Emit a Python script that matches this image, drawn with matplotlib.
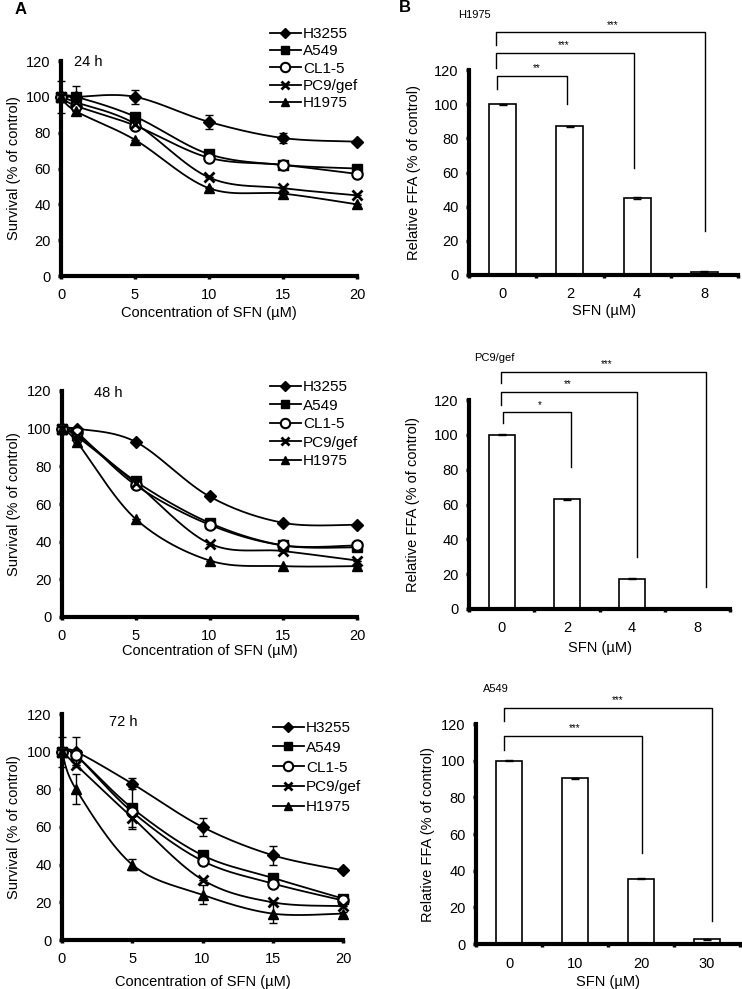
import numpy as np
import matplotlib
matplotlib.use("Agg")
import matplotlib.pyplot as plt
from matplotlib.lines import Line2D

plt.rcParams['font.family'] = ['Liberation Sans', 'DejaVu Sans']

# ---------------- data ----------------
conc = [0, 1, 5, 10, 15, 20]
cell_lines = ["H3255", "A549", "CL1-5", "PC9/gef", "H1975"]

surv_24 = {
    "H3255":   [100, 100, 100, 86, 77, 75],
    "A549":    [100, 100, 89, 68, 62, 60],
    "CL1-5":   [100, 95, 84, 66, 62, 57],
    "PC9/gef": [100, 97, 85, 55, 49, 45],
    "H1975":   [100, 92, 76, 49, 46, 40],
}
err_24 = {
    "H3255":   [9, 0, 4, 4, 3, 1],
    "A549":    [0, 6, 2, 2, 1, 1],
    "CL1-5":   [0, 0, 0, 0, 0, 0],
    "PC9/gef": [0, 0, 0, 0, 0, 0],
    "H1975":   [0, 0, 0, 0, 0, 0],
}
surv_48 = {
    "H3255":   [100, 100, 93, 64, 50, 49],
    "A549":    [100, 97, 72, 50, 38, 37],
    "CL1-5":   [100, 98, 70, 49, 38, 38],
    "PC9/gef": [100, 96, 71, 39, 35, 30],
    "H1975":   [100, 93, 52, 30, 27, 27],
}
err_48 = {k: [0, 0, 0, 0, 0, 0] for k in cell_lines}
surv_72 = {
    "H3255":   [100, 100, 83, 60, 45, 37],
    "A549":    [100, 98, 70, 45, 33, 22],
    "CL1-5":   [100, 98, 68, 42, 30, 21],
    "PC9/gef": [100, 93, 65, 32, 20, 18],
    "H1975":   [100, 80, 40, 24, 14, 14],
}
err_72 = {
    "H3255":   [8, 8, 3, 5, 5, 1],
    "A549":    [0, 0, 11, 0, 0, 0],
    "CL1-5":   [0, 0, 0, 0, 0, 0],
    "PC9/gef": [0, 0, 5, 0, 0, 0],
    "H1975":   [0, 8, 3, 5, 5, 1],
}
time_labels = ["24 h", "48 h", "72 h"]

ffa_h1975_doses = ["0", "2", "4", "8"]
ffa_h1975 = [100, 87, 45, 2]
ffa_h1975_err = [0.3, 0.5, 0.6, 0.3]
ffa_pc9_doses = ["0", "2", "4", "8"]
ffa_pc9 = [100, 63, 17.5, 0]
ffa_pc9_err = [0.3, 0.2, 0.2, 0.0]
ffa_a549_doses = ["0", "10", "20", "30"]
ffa_a549 = [100, 90.5, 35.5, 2.5]
ffa_a549_err = [0.3, 0.3, 0.3, 0.2]

# ---------------- figure ----------------
W, H = 742, 989
fig = plt.figure(figsize=(W / 100, H / 100), dpi=100)


def rect(l, r, t, b):
    return [l / W, 1 - b / H, (r - l) / W, (b - t) / H]


styles = {
    "H3255":   dict(marker="D", ms=6, mfc="k", mec="k", mew=1),
    "A549":    dict(marker="s", ms=6.5, mfc="k", mec="k", mew=1),
    "CL1-5":   dict(marker="o", ms=7.5, mfc="white", mec="k", mew=1.5),
    "PC9/gef": dict(marker="x", ms=6.5, mfc="k", mec="k", mew=2),
    "H1975":   dict(marker="^", ms=7, mfc="k", mec="k", mew=1),
}


def smooth(ax, x, y, n=30):
    pts = ax.transData.transform(np.column_stack([x, y]))
    P = np.vstack([pts[0], pts, pts[-1]])
    segs = []
    t = np.linspace(0, 1, n)[:, None]
    for i in range(1, len(P) - 2):
        p0, p1, p2, p3 = P[i - 1], P[i], P[i + 1], P[i + 2]
        c1 = p1 + (p2 - p0) / 6
        c2 = p2 - (p3 - p1) / 6
        seg = (1 - t) ** 3 * p1 + 3 * (1 - t) ** 2 * t * c1 + 3 * (1 - t) * t ** 2 * c2 + t ** 3 * p2
        segs.append(seg)
    out = ax.transData.inverted().transform(np.vstack(segs))
    return out[:, 0], out[:, 1]


def style_axes(ax):
    for s in ["top", "right"]:
        ax.spines[s].set_visible(False)
    for s in ["left", "bottom"]:
        ax.spines[s].set_linewidth(3)
    ax.tick_params(axis="both", which="both", direction="out", labelsize=10.5,
                   colors="k")


a_rects = [rect(61, 357, 61, 276), rect(62, 357, 391, 617), rect(62, 343, 714, 940)]
a_data = [(surv_24, err_24), (surv_48, err_48), (surv_72, err_72)]
legend_anchor = [(270, 27), (270, 380), (273, 721)]
legend_spacing = [0.22, 0.3, 0.38]
time_pos = [(88, 62), (108, 393), (123, 722)]
xlabel_top = [306, 644, 975]
ylabel_anchor_x = [21, 21, 21]

for k in range(3):
    ax = fig.add_axes(a_rects[k])
    style_axes(ax)
    ax.set_xlim(0, 20)
    ax.set_ylim(0, 120)
    ax.set_xticks([0, 5, 10, 15, 20])
    ax.set_yticks(range(0, 121, 20))
    ax.tick_params(axis="y", length=2.5, width=2.5, pad=5)
    ax.tick_params(axis="x", length=2.5, width=2.5, pad=6)
    surv, err = a_data[k]
    for name in cell_lines:
        xs, ys = smooth(ax, conc, surv[name])
        ax.plot(xs, ys, color="k", lw=1.3, clip_on=False, zorder=3)
        e = np.array(err[name], dtype=float)
        ax.errorbar(conc, surv[name], yerr=e, fmt="none", ecolor="k",
                    elinewidth=1, capsize=3, capthick=1, clip_on=False, zorder=3)
        ax.plot(conc, surv[name], ls="none", clip_on=False, zorder=4, **styles[name])
    handles = []
    for name in cell_lines:
        st = dict(styles[name])
        st["ms"] = st["ms"] * 0.9
        handles.append(Line2D([], [], color="k", lw=1.3, **st))
    ax.legend(handles, cell_lines, loc="upper left",
              bbox_to_anchor=(legend_anchor[k][0] / W, 1 - legend_anchor[k][1] / H),
              bbox_transform=fig.transFigure, frameon=False, fontsize=11,
              handlelength=2.0, handletextpad=0.15, labelspacing=legend_spacing[k],
              borderpad=0, borderaxespad=0)
    fig.text(time_pos[k][0] / W, 1 - time_pos[k][1] / H, time_labels[k],
             fontsize=10.5, ha="center", va="center")
    ax.set_xlabel("Concentration of SFN (\u00b5M)", fontsize=10.5)
    ax.set_ylabel("Survival (% of control)", fontsize=10.5)
    ax.xaxis.set_label_coords(a_rects[k][0] + a_rects[k][2] / 2, 1 - xlabel_top[k] / H,
                              transform=fig.transFigure)
    ax.yaxis.set_label_coords(ylabel_anchor_x[k] / W, a_rects[k][1] + a_rects[k][3] / 2,
                              transform=fig.transFigure)

# ---------------- panel B ----------------
b_rects = [rect(469, 738, 70, 275), rect(469, 730, 400, 609), rect(476, 740, 724, 944)]
b_vals = [(ffa_h1975_doses, ffa_h1975, ffa_h1975_err),
          (ffa_pc9_doses, ffa_pc9, ffa_pc9_err),
          (ffa_a549_doses, ffa_a549, ffa_a549_err)]
b_titles = ["H1975", "PC9/gef", "A549"]
b_title_pos = [(474, 15), (494, 358), (496, 689)]
b_xlabel_top = [304, 641, 975]
b_ylabel_anchor_x = [421, 420, 435]
# brackets: (y_top, x_left, left_end, x_right, right_end, stars, star_x)
b_brackets = [
    [(142, -0.10, 134.6, 3.01, 26, "***", 1.64),
     (130, -0.10, 121, 1.95, 62.6, "***", 0.90),
     (116.5, -0.08, 109, 0.96, 100, "**", 0.51)],
    [(136, -0.01, 129.7, 3.13, 12.6, "***", 1.61),
     (124.6, -0.01, 117, 2.07, 30, "**", 1.02),
     (113, 0.02, 106.8, 1.06, 81.5, "*", 0.59)],
    [(128.7, -0.08, 121.6, 3.08, 12.5, "***", 1.65),
     (113.5, -0.08, 105.8, 2.02, 49.6, "***", 1.00)],
]

for k in range(3):
    ax = fig.add_axes(b_rects[k])
    style_axes(ax)
    doses, vals, errs = b_vals[k]
    pos = np.arange(len(doses))
    ax.bar(pos, vals, width=0.4, color="white", edgecolor="k", linewidth=1.2, zorder=2)
    ax.errorbar(pos, vals, yerr=errs, fmt="none", ecolor="k", elinewidth=1,
                capsize=3, capthick=1, zorder=3)
    ax.set_xlim(-0.5, len(doses) - 0.5)
    ax.set_ylim(0, 120)
    ax.set_yticks(range(0, 121, 20))
    ax.set_xticks(pos)
    ax.set_xticklabels(doses)
    ax.set_xticks(np.arange(-0.5, len(doses), 1.0), minor=True)
    ax.tick_params(axis="x", which="major", length=0, pad=9)
    ax.tick_params(axis="x", which="minor", length=2.5, width=2.5)
    ax.tick_params(axis="y", length=2.5, width=2.5, pad=5)
    ax.set_xlabel("SFN (\u00b5M)", fontsize=10.5)
    ax.set_ylabel("Relative FFA (% of control)", fontsize=10.5)
    ax.xaxis.set_label_coords(b_rects[k][0] + b_rects[k][2] / 2, 1 - b_xlabel_top[k] / H,
                              transform=fig.transFigure)
    ax.yaxis.set_label_coords(b_ylabel_anchor_x[k] / W, b_rects[k][1] + b_rects[k][3] / 2,
                              transform=fig.transFigure)
    fig.text(b_title_pos[k][0] / W, 1 - b_title_pos[k][1] / H, b_titles[k],
             fontsize=8, ha="center", va="center")
    for (yt, xl, le, xr, re, st, sx) in b_brackets[k]:
        ax.plot([xl, xl, xr, xr], [le, yt, yt, re], color="k", lw=1,
                clip_on=False, zorder=4)
        ax.text(sx, yt + 1.5, st, fontsize=7, ha="center", va="bottom")

fig.text(21 / W, 1 - 10 / H, "A", fontsize=12, fontweight="bold", ha="center", va="center")
fig.text(405 / W, 1 - 8 / H, "B", fontsize=12, fontweight="bold", ha="center", va="center")

fig.savefig("out.png", dpi=100)
